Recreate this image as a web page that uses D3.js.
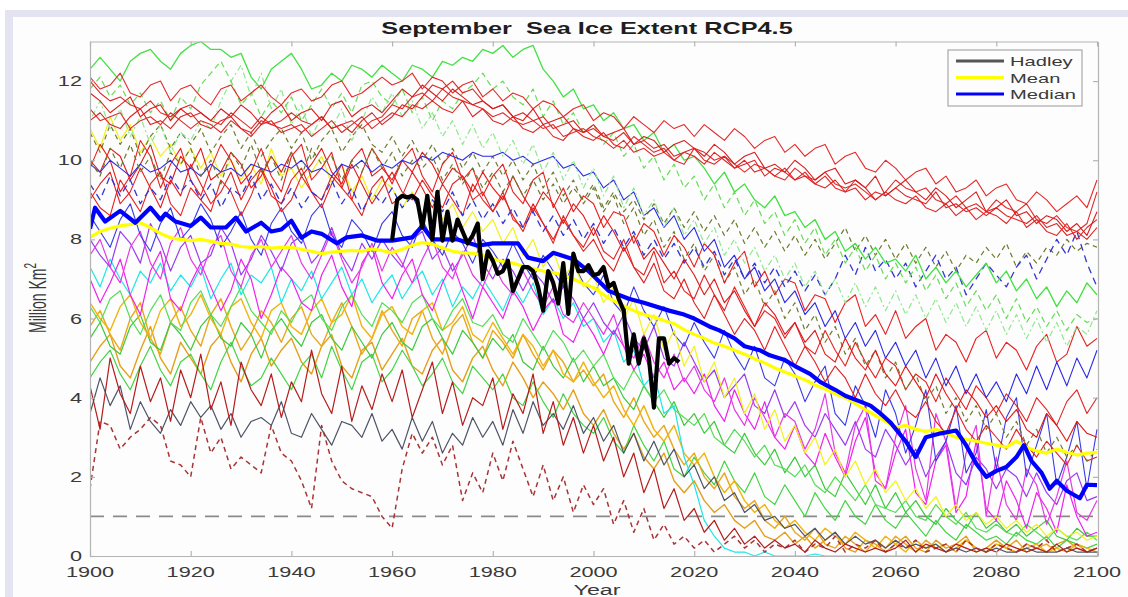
<!DOCTYPE html>
<html><head><meta charset="utf-8">
<script src="https://cdn.jsdelivr.net/npm/d3@7"></script>
<style>html,body{margin:0;padding:0;background:#fff;}svg{display:block;font-family:"Liberation Sans",Arial,Helvetica,sans-serif;}</style>
</head><body>
<svg id="chart" width="1128" height="597"></svg>
<script>
// ---------------- DATA ----------------
const title = "September\u00a0 Sea Ice Extent RCP4.5";
const xTicks = [1900,1920,1940,1960,1980,2000,2020,2040,2060,2080,2100];
const yTicks = [0,2,4,6,8,10,12];
const thresholdValue = 1;
const legendLabels = ["Hadley","Mean","Median"];

// ensemble members, one value every 2 years 1900..2100
const limeSolid = [12.3,12.6,12.3,12.0,12.5,12.7,12.8,12.5,12.3,12.7, 12.9,13.0,12.8,12.8,12.6,12.7,12.1,11.8,12.3,12.5, 12.7,12.3,11.8,11.9,12.2,12.0,12.4,12.3,12.1,12.4, 12.2,12.0,12.4,12.3,12.1,12.5,12.4,12.6,12.5,12.8, 12.7,12.9,12.6,12.8,12.9,12.3,12.0,11.6,11.8,11.3, 11.4,11.0,11.2,10.8,10.9,10.5,10.7,10.2,10.4,10.0, 10.1,9.8,9.4,9.7,9.2,9.4,9.0,8.8,9.1,8.6, 8.7,8.3,8.5,8.0,8.2,7.7,7.9,7.5,7.8,7.4, 7.5,7.2,7.6,7.0,7.3,6.9,7.2,6.8,7.1,7.4, 6.9,7.2,6.7,7.0,6.5,6.8,6.3,6.7,6.4,6.9, 6.6];
const redA = [12.1,11.8,11.9,12.2,11.7,11.6,11.9,12.0,11.5,11.8, 11.9,11.6,11.4,11.8,11.9,11.5,11.7,11.9,11.6,11.4, 11.7,11.8,11.5,11.6,11.9,12.0,11.6,11.7,11.9,12.1, 11.9,12.0,12.2,11.8,12.1,12.0,11.7,11.9,12.0,11.6, 11.8,11.5,11.7,11.6,11.3,11.5,11.4,11.1,11.3,11.4, 11.0,11.2,11.1,10.8,11.1,10.9,10.7,11.0,10.8,10.9, 10.6,10.9,10.7,10.5,10.8,10.6,10.3,10.5,10.6,10.2, 10.4,10.1,10.3,10.4,9.9,10.1,10.2,9.8,9.7,10.0, 9.8,9.5,9.7,9.8,9.4,9.6,9.2,9.3,9.5,9.1, 9.3,9.4,9.0,8.9,9.2,9.0,8.7,8.9,9.1,8.8, 9.5];
const redB = [11.7,11.5,11.2,11.4,11.6,11.1,11.3,11.4,11.0,11.3, 11.4,11.2,11.0,11.3,11.1,11.4,11.2,10.9,11.2,11.4, 11.0,11.2,11.3,11.0,11.4,11.5,11.1,11.3,11.4,11.2, 11.5,11.8,11.6,11.9,11.7,11.5,11.8,11.6,11.4,11.5, 11.3,11.4,11.1,11.0,11.3,10.9,11.0,11.1,10.8,10.7, 10.9,10.6,10.7,10.8,10.4,10.6,10.5,10.2,10.4,10.5, 10.3,10.1,10.4,10.2,9.9,10.1,10.2,9.8,9.9,9.7, 10.0,9.8,9.5,9.7,9.8,9.4,9.5,9.3,9.6,9.1, 9.3,9.5,9.2,9.0,9.3,9.1,8.8,9.0,9.2,8.7, 8.8,9.0,8.6,8.7,8.4,8.6,8.5,8.2,8.4,8.1, 8.7];
const redC = [11.3,11.0,11.1,11.2,10.8,11.0,11.1,10.9,11.2,11.0, 10.8,11.0,10.9,10.7,11.0,10.8,10.6,10.9,11.0,10.7, 10.8,10.9,10.6,10.8,11.0,10.7,10.9,11.1,10.8,11.0, 11.2,11.1,11.4,11.3,11.5,11.3,11.2,11.5,11.1,11.3, 11.0,10.9,11.1,10.8,10.7,10.9,10.6,10.5,10.8,10.6, 10.5,10.7,10.4,10.3,10.6,10.4,10.2,10.3,10.0,10.2, 10.1,9.9,10.2,10.0,9.8,9.9,10.0,9.6,9.8,9.7, 9.5,9.7,9.4,9.6,9.3,9.2,9.5,9.3,9.0,9.2, 9.0,8.9,9.1,8.8,8.7,8.9,8.6,8.8,8.5,8.7, 8.6,8.4,8.7,8.3,8.5,8.2,8.1,8.4,8.0,8.3, 8.5];
const redD = [11.0,11.2,10.9,10.8,11.1,11.3,10.9,11.0,10.8,11.1, 11.2,10.9,10.8,11.0,11.1,10.8,10.7,11.0,10.9,10.8, 10.9,10.7,10.9,11.1,10.8,10.9,10.7,11.0,11.2,10.9, 11.1,11.4,11.3,11.6,11.9,11.8,12.0,11.7,11.8,11.5, 11.3,11.4,11.1,11.2,11.0,11.1,10.8,10.9,11.0,10.7, 10.8,10.6,10.5,10.7,10.4,10.5,10.3,10.4,10.1,10.2, 10.3,10.0,9.9,10.1,9.8,10.0,9.7,9.8,9.6,9.8, 9.5,9.6,9.4,9.3,9.5,9.2,9.3,9.0,9.2,9.1, 9.3,9.1,9.0,8.9,9.2,8.8,8.9,8.7,8.8,8.6, 8.8,8.6,8.5,8.4,8.6,8.3,8.4,8.1,8.2,8.0, 8.3];
const redE = [12.0,11.7,11.5,11.6,11.4,11.3,11.5,11.2,11.1,11.3, 11.1,11.2,11.0,10.9,11.2,11.0,10.8,11.1,10.9,11.0, 11.2,11.0,10.9,11.1,10.8,10.9,11.0,10.8,11.0,11.1, 11.4,11.3,11.6,11.7,11.5,11.8,11.6,11.5,11.4,11.3, 11.1,11.2,11.0,10.9,11.0,10.8,10.9,10.6,10.7,10.8, 10.6,10.5,10.3,10.5,10.2,10.3,10.1,10.2,10.0,9.9, 10.3,10.2,10.0,10.1,9.9,9.7,9.9,9.8,9.6,9.5, 9.8,9.6,9.5,9.7,9.4,9.3,9.4,9.2,9.0,9.2, 9.5,9.3,9.2,9.3,9.0,8.9,9.1,8.8,8.9,8.7, 9.0,8.8,8.7,8.9,8.5,8.4,8.6,8.3,8.2,8.4, 9.2];
const lightGreenDashed = [11.8,12.1,11.6,11.9,11.4,11.7,11.2,11.5,11.0,11.6, 11.3,11.9,12.2,12.5,12.0,11.4,11.7,11.1,11.5,11.2, 11.6,11.0,11.4,11.8,11.3,11.7,11.2,11.9,12.0,11.6, 11.4,11.8,11.2,11.6,11.0,11.5,11.3,11.7,11.9,12.2, 11.8,12.0,11.6,11.4,11.8,11.1,11.5,10.9,11.2,10.7, 10.9,10.4,10.7,10.1,10.4,9.8,10.1,9.5,9.9,9.3, 9.6,9.0,9.4,8.8,9.2,8.6,9.0,8.4,8.7,8.1, 8.5,7.9,8.3,7.6,8.0,7.4,7.8,7.2,7.6,7.0, 7.4,6.9,7.3,6.7,7.1,6.5,6.9,6.3,6.7,6.2, 6.6,6.0,6.5,5.9,6.3,5.8,6.2,5.7,6.1,5.9, 6.0];
const lightGreenDotted = [11.0,11.5,10.8,11.3,10.6,11.1,10.4,10.9,10.2,10.7, 10.5,11.0,10.8,11.5,12.0,12.4,11.6,12.2,11.3,11.8, 10.9,11.4,10.6,11.1,10.8,11.3,10.5,11.0,11.6,11.2, 11.7,11.1,11.5,10.8,11.2,10.6,11.0,10.4,10.9,10.3, 10.7,10.1,10.5,9.9,10.4,9.7,10.2,9.5,10.0,9.3, 9.8,9.1,9.6,8.8,9.3,8.6,9.0,8.3,8.8,8.1, 8.5,7.9,8.3,7.6,8.0,7.4,7.8,7.2,7.6,7.0, 7.4,6.8,7.2,6.6,7.0,6.4,6.9,6.3,6.8,6.2, 6.7,6.1,6.6,6.0,6.5,5.9,6.4,5.8,6.3,5.7, 6.2,5.6,6.1,5.5,6.0,5.4,5.9,5.3,5.8,5.6, 6.2];
const oliveDashedA = [10.0,9.6,10.3,9.8,10.4,9.7,10.1,9.5,10.2,9.9, 10.3,9.6,10.0,9.4,10.2,9.8,10.4,9.7,10.1,9.5, 10.2,9.6,10.3,9.9,10.1,9.5,10.0,9.7,10.3,9.8, 10.2,9.6,10.0,9.8,10.1,9.5,9.9,9.4,9.8,9.3, 9.7,9.2,9.6,9.1,9.5,9.0,9.4,8.9,9.3,9.0, 9.4,8.8,9.2,8.7,9.0,8.5,8.9,8.4,8.8,8.3, 8.7,8.2,8.6,8.1,8.5,7.9,8.3,7.8,8.2,7.7, 8.1,7.6,8.0,7.5,7.9,8.3,7.7,8.1,7.6,8.0, 7.5,7.9,7.4,7.8,7.3,7.7,7.2,7.6,7.4,7.8, 7.5,7.9,7.3,7.7,7.4,7.8,7.6,8.0,7.7,7.9, 7.8];
const oliveDashedB = [10.7,10.2,10.9,10.4,10.8,10.1,10.6,10.9,10.3,10.7, 10.4,10.8,10.2,10.6,10.9,10.3,10.7,10.1,10.5,10.8, 10.3,10.7,10.0,10.5,10.8,10.2,10.6,10.9,10.4,10.2, 10.6,10.1,10.5,10.0,10.4,9.9,10.3,9.8,10.2,9.7, 10.1,9.6,10.0,9.5,9.9,9.3,9.7,9.1,9.5,8.9, 9.3,8.7,9.1,8.4,8.8,8.1,8.5,7.8,8.2,7.5, 7.9,7.2,7.6,6.9,7.3,6.6,7.0,6.3,6.7,6.0, 6.4,5.7,6.1,5.4,5.8,5.1,5.5,4.8,5.2,4.5, 4.9,4.2,4.6,3.9,4.3,3.6,4.0,3.4,3.8,3.2, 3.6,3.0,3.4,2.8,3.2,2.6,3.0,2.5,2.8,2.4, 2.7];
const blueDashed = [9.4,9.0,9.6,9.1,9.5,8.9,9.3,9.0,9.6,9.2, 9.5,9.0,9.4,8.8,9.3,9.1,9.6,9.0,9.4,8.9, 9.3,8.8,9.2,9.0,9.5,8.9,9.3,8.7,9.2,8.9, 9.3,8.8,9.1,8.6,9.0,8.7,9.2,8.6,9.0,8.5, 8.9,8.4,8.8,8.3,8.7,8.2,8.6,8.1,8.5,8.0, 8.4,7.9,8.3,7.8,8.2,7.6,8.0,7.5,7.9,7.4, 7.8,7.3,7.7,7.1,7.5,7.0,7.4,6.9,7.3,6.8, 7.2,6.7,7.1,6.6,7.0,7.6,7.1,7.8,7.2,7.5, 7.0,7.4,6.8,7.2,7.6,7.0,7.3,6.6,7.0,7.4, 7.1,6.8,7.3,7.6,7.0,7.5,8.0,7.6,8.2,7.4, 6.8];
const redF1 = [9.8,10.4,10.0,9.2,9.6,10.5,10.1,9.3,9.9,10.3, 9.5,9.1,9.8,10.4,10.0,9.4,9.7,10.3,9.6,9.2, 10.1,10.4,9.5,9.8,10.2,9.3,9.0,9.7,10.3,9.9, 9.4,10.0,10.3,9.6,9.2,9.9,10.2,9.5,9.8,9.1, 9.6,9.9,9.2,8.9,9.5,9.7,8.8,9.3,8.7,9.1, 8.9,8.3,8.7,8.6,7.9,8.4,8.2,7.6,8.1,7.8, 7.3,7.9,7.6,6.9,7.4,7.7,6.8,7.2,6.6,7.0, 6.9,6.2,6.6,6.5,5.9,6.4,6.6,5.8,6.1,5.6, 6.2,5.5,5.8,6.0,5.2,5.6,5.4,4.9,5.5,5.7, 5.0,5.4,5.2,4.7,5.3,5.6,4.9,5.1,5.8,5.3, 5.5];
const redF2 = [9.2,8.8,8.6,9.5,9.1,8.7,9.4,9.7,8.9,8.6, 9.3,9.0,8.7,9.5,9.2,8.6,9.1,9.8,9.3,8.7, 9.0,9.6,9.2,8.8,9.4,9.9,9.0,8.6,9.3,9.6, 8.9,9.1,9.7,9.3,8.8,9.4,9.0,8.6,9.4,9.0, 8.7,9.2,8.5,8.3,8.9,8.4,7.9,8.6,8.1,7.8, 8.3,7.7,7.5,8.0,7.3,7.1,7.7,6.9,7.2,6.7, 6.5,7.1,6.6,6.2,6.8,6.3,5.8,6.2,6.0,5.5, 5.9,5.3,5.1,5.7,5.2,4.8,5.4,4.9,4.5,5.0, 4.8,4.2,4.6,4.4,3.9,4.5,4.1,3.7,4.3,4.0, 3.6,4.1,3.8,3.4,4.0,3.7,3.3,3.9,4.2,3.6, 4.0];
const redF3 = [10.0,9.7,10.3,10.1,9.5,9.9,10.4,9.6,9.4,10.1, 9.8,10.3,9.5,9.7,10.2,9.9,9.3,9.6,10.1,9.7, 10.2,9.6,9.9,10.3,9.7,9.4,10.0,10.3,9.6,9.8, 9.5,10.0,9.7,10.2,9.9,9.4,9.8,9.6,9.2,9.7, 9.3,9.0,9.6,9.1,8.7,9.2,8.9,8.4,8.9,8.6, 8.1,8.6,8.2,7.7,8.1,7.5,7.8,7.4,7.0,7.5, 7.1,6.6,7.0,6.4,6.7,6.2,5.8,6.4,6.1,5.6, 5.9,5.4,5.7,5.1,4.9,5.5,5.0,4.7,5.2,4.6, 4.3,4.8,4.4,4.0,4.6,4.1,3.7,4.2,3.9,3.5, 3.8,3.4,3.7,3.2,3.0,3.6,3.3,2.9,3.4,3.1, 3.0];
const redF4 = [9.0,9.4,9.7,8.9,9.2,9.8,9.3,8.8,9.5,9.1, 9.9,9.4,8.9,9.2,9.7,9.0,9.5,9.8,9.1,8.9, 9.5,9.8,9.2,9.0,9.6,9.3,9.9,9.4,8.9,9.3, 9.7,9.2,9.0,9.5,9.1,8.8,9.4,9.6,9.0,9.2, 8.7,9.1,8.6,8.2,8.8,8.4,8.0,8.5,8.1,7.7, 8.0,7.5,7.2,7.8,7.3,6.9,7.4,6.7,6.5,7.0, 6.4,6.0,6.6,6.1,5.6,6.0,5.7,5.2,5.8,5.3, 4.8,5.3,4.9,4.4,4.8,4.5,4.0,4.6,4.1,3.8, 4.2,3.7,3.5,3.9,3.4,3.1,3.7,3.2,2.9,3.3, 3.0,2.7,3.2,2.8,2.5,2.9,2.6,2.3,2.8,2.4, 2.5];
const blueSolidA = [9.9,9.7,10.0,9.8,9.6,9.9,9.7,9.8,10.0,9.7, 9.8,9.6,9.9,9.7,9.8,9.6,9.9,9.8,9.7,9.9, 9.8,10.0,9.7,9.8,9.6,9.9,9.8,10.0,9.7,9.9, 9.8,10.0,9.9,10.1,10.0,10.2,10.1,10.0,10.2,10.1, 10.1,10.2,10.0,10.1,9.9,10.0,10.1,9.8,9.9,9.6, 9.7,9.3,9.5,9.0,9.2,8.6,8.8,8.3,8.6,8.0, 8.3,7.7,8.0,7.3,7.6,7.0,7.3,6.7,7.0,6.4, 6.7,6.1,6.4,5.8,6.2,5.5,5.9,5.3,5.7,5.0, 5.4,4.8,5.2,4.5,5.0,4.3,4.8,4.1,4.6,4.0, 4.4,3.9,4.6,4.1,4.8,4.2,4.9,4.3,5.0,4.5, 5.2];
const blueSolidB = [8.6,8.2,7.8,8.5,8.9,8.1,7.7,8.4,8.8,8.0, 8.3,8.9,8.5,7.8,8.2,8.7,8.0,7.6,8.4,8.8, 8.2,7.9,8.6,8.9,8.1,7.8,8.5,8.2,7.7,8.4, 8.7,8.1,7.8,8.5,8.0,7.6,8.2,7.9,7.4,8.0, 7.7,7.3,7.9,7.4,7.0,7.6,7.2,6.8,7.4,6.9, 6.6,7.1,6.4,6.1,6.8,6.2,5.8,6.3,5.6,5.3, 5.9,5.4,5.0,5.7,5.1,4.7,5.3,4.5,4.3,5.0, 4.6,3.9,4.4,4.8,3.6,3.3,4.3,3.8,3.0,4.2, 3.6,2.6,3.3,4.2,2.4,2.9,3.8,2.1,2.6,3.7, 2.2,3.5,4.0,2.0,2.8,3.6,1.8,2.5,3.4,1.7, 3.2];
const violet = [8.0,7.6,7.3,8.2,7.9,7.4,8.4,7.9,7.2,7.8, 8.1,7.4,7.6,8.3,7.9,7.1,7.5,8.1,7.7,7.2, 7.9,8.1,7.4,7.7,8.3,7.6,7.2,7.9,7.5,8.0, 7.6,7.3,8.0,8.2,7.5,7.8,7.2,7.6,8.1,7.4, 7.0,7.5,7.2,6.7,7.2,6.9,6.4,6.8,6.5,6.0, 6.4,5.9,5.6,6.1,5.5,5.2,5.8,5.0,4.8,5.4, 4.9,4.4,4.7,4.0,4.3,4.6,3.8,3.6,4.2,3.5, 3.9,3.3,3.0,3.6,3.2,2.8,3.4,2.7,2.5,3.2, 2.8,2.3,2.7,2.0,2.5,2.9,2.1,1.8,2.5,2.2, 1.7,2.2,2.0,1.5,2.1,1.6,1.3,1.9,2.1,1.4, 1.5];
const magentaA = [7.0,6.4,6.9,7.5,6.6,6.1,7.2,7.7,6.5,6.2, 6.9,7.4,6.8,6.2,6.7,7.5,7.0,6.0,6.6,7.3, 7.0,6.4,6.2,7.1,7.6,6.8,6.3,7.4,7.8,6.9, 6.5,7.1,7.5,6.6,6.2,6.9,7.4,6.7,6.0,6.8, 6.4,6.0,6.7,6.3,5.7,6.2,6.5,5.6,5.4,6.0, 5.6,5.1,5.7,5.3,4.7,5.1,4.5,4.9,4.2,4.5, 4.1,4.6,3.8,3.4,4.2,3.6,3.2,3.9,3.0,2.7, 3.3,2.6,2.3,3.1,2.5,2.0,2.9,3.5,2.1,1.7, 2.6,3.2,1.6,1.3,2.4,2.8,1.1,1.5,2.9,1.2, 0.9,1.9,1.4,0.7,1.6,1.2,0.6,1.8,1.0,0.5, 0.6];
const magentaB = [7.6,8.0,7.3,6.9,7.8,8.2,7.4,7.0,7.9,8.3, 7.5,7.1,7.8,8.1,7.2,6.8,7.6,8.0,7.3,7.7, 8.1,7.4,7.0,7.6,8.2,7.5,6.9,7.3,7.9,7.2, 7.8,7.4,6.9,7.5,8.0,7.3,7.0,7.7,7.1,6.8, 7.4,6.9,6.6,7.2,6.7,6.3,6.8,6.1,5.9,6.4, 6.0,5.6,6.1,5.3,5.0,5.6,4.9,4.5,5.1,4.4, 4.8,4.2,3.9,4.5,3.7,3.3,4.0,3.5,3.0,3.6, 3.4,2.7,3.2,4.1,2.6,2.1,3.3,3.8,1.9,1.7, 3.0,3.8,2.2,1.4,3.6,2.9,1.2,2.6,3.3,1.0, 2.5,1.3,0.9,2.2,1.8,0.8,1.5,2.4,1.1,0.9, 1.4];
const cyan = [7.3,6.8,7.5,7.0,6.6,7.2,6.9,7.4,6.7,7.1, 6.8,7.3,6.5,7.0,7.4,6.6,7.1,6.9,7.3,6.4, 7.0,6.7,7.2,6.5,6.9,7.3,6.6,7.0,6.4,6.8, 7.1,6.5,6.9,7.2,6.6,7.0,6.3,6.8,6.5,7.0, 6.6,6.2,6.8,6.4,6.9,6.1,6.5,6.0,6.4,5.8, 6.0,5.4,5.7,4.9,5.2,4.3,4.6,3.6,3.8,2.5, 1.8,0.9,0.5,0.2,0.1,0.1,0,0.1,0,0, 0,0,0.05,0,0,0,0,0,0,0, 0,0,0,0,0,0,0,0,0,0, 0,0,0,0,0,0,0,0,0,0, 0];
const orangeA = [5.8,6.2,5.6,5.2,6.0,6.4,5.5,5.1,5.9,6.3, 5.7,5.3,6.1,6.5,5.8,5.2,5.6,6.2,5.9,5.4, 6.0,6.3,5.6,5.3,5.9,6.4,5.8,5.1,5.5,6.2, 5.7,5.3,6.0,6.2,5.5,5.1,5.8,6.1,5.4,5.0, 5.7,5.4,5.0,5.6,5.1,4.7,5.2,4.9,4.4,4.7, 4.3,4.6,3.9,3.5,4.0,3.4,3.0,3.3,2.7,2.3, 2.6,2.0,1.7,2.1,1.5,1.2,1.4,0.9,0.7,1.0, 0.6,0.4,0.7,0.3,0.2,0.5,0.3,0.1,0.4,0.2, 0.5,0.3,0.1,0.4,0.2,0.3,0.1,0.4,0.2,0.1, 0.3,0.2,0.4,0.1,0.2,0.3,0.1,0.2,0.3,0.1, 0.2];
const orangeB = [4.9,5.3,5.6,4.8,4.5,5.2,5.8,5.0,4.6,5.4, 5.0,4.6,5.3,5.6,4.9,4.4,5.1,5.5,4.8,5.2, 5.5,4.9,4.6,5.3,5.6,4.8,4.5,5.2,5.4,4.7, 5.1,5.5,4.8,4.6,5.2,5.5,4.7,4.4,5.0,5.3, 4.7,4.3,4.9,4.5,4.0,4.4,4.1,3.7,4.2,3.6, 3.3,3.7,3.1,2.7,3.1,2.5,2.2,2.6,1.9,1.6, 1.9,1.4,1.1,1.3,0.9,0.7,0.9,0.5,0.4,0.6, 0.3,0.5,0.2,0.4,0.6,0.2,0.1,0.4,0.3,0.1, 0.3,0.5,0.2,0.1,0.4,0.2,0.3,0.5,0.1,0.2, 0.4,0.2,0.1,0.3,0.2,0.1,0.3,0.4,0.2,0.1, 0.2];
const goldC = [6.4,6.0,5.7,6.3,6.6,5.9,5.5,6.2,6.5,5.8, 6.1,6.6,6.0,5.6,6.3,6.5,5.9,5.5,6.2,6.4, 5.8,5.6,6.2,6.5,5.9,6.1,6.6,5.8,5.5,6.1, 6.3,5.8,5.6,6.2,6.4,5.7,5.9,6.3,5.6,5.4, 5.9,5.5,5.1,5.6,5.3,4.8,5.2,4.6,4.4,4.9, 4.4,4.0,4.3,3.7,3.3,3.8,3.2,2.9,3.3,2.6, 2.3,2.6,2.0,1.6,1.9,1.4,1.1,1.3,0.9,0.7, 0.9,0.6,0.4,0.7,0.5,0.3,0.6,0.4,0.2,0.5, 0.3,0.1,0.4,0.2,0.3,0.1,0.2,0.4,0.2,0.1, 0.3,0.2,0.1,0.2,0.3,0.1,0.2,0.1,0.3,0.2, 0.1];
const greenA = [5.5,5.9,5.3,5.1,5.8,6.1,5.4,5.2,5.9,5.6, 5.2,5.8,6.1,5.5,5.3,5.9,5.6,5.0,5.7,6.0, 5.6,5.3,5.9,6.1,5.5,5.2,5.8,5.4,5.0,5.6, 5.9,5.4,5.2,5.8,6.0,5.5,5.1,5.7,5.4,5.0, 5.5,5.2,5.6,4.9,4.7,5.3,4.8,4.5,5.0,4.4, 4.8,4.3,4.5,4.0,3.7,4.3,3.9,3.5,3.9,3.3, 3.6,3.1,3.4,2.8,2.6,3.1,2.6,2.3,2.7,2.1, 2.5,2.0,2.3,1.7,1.5,2.1,1.7,1.3,1.8,1.2, 1.6,1.1,1.4,1.0,0.8,1.2,0.9,0.7,1.1,0.7, 0.9,0.6,0.8,0.5,0.7,0.9,0.5,0.4,0.7,0.5, 0.5];
const greenB = [6.3,5.9,6.5,6.7,6.0,5.6,6.2,6.6,5.9,5.7, 6.4,6.7,6.1,5.8,6.3,6.8,6.2,5.9,5.6,6.2, 5.9,6.4,6.6,6.0,5.7,6.3,6.6,6.1,5.8,6.4, 6.2,5.9,6.4,6.6,6.0,5.7,6.2,6.5,5.9,5.8, 6.1,5.6,5.4,6.0,5.6,5.2,5.7,5.4,4.9,5.2, 4.8,5.1,4.5,4.2,4.7,4.3,3.9,4.2,3.7,3.5, 3.3,3.6,3.0,2.8,3.2,2.9,2.5,2.8,2.3,2.2, 2.0,2.3,1.8,1.6,2.0,1.7,1.4,1.8,1.3,1.2, 1.1,1.4,1.0,0.9,1.3,1.0,0.8,1.1,0.7,0.6, 0.8,0.6,0.5,0.8,0.6,0.4,0.7,0.5,0.4,0.6, 0.4];
const greenC = [4.5,4.9,5.2,4.6,4.2,4.8,5.3,4.7,4.3,4.9, 5.1,4.6,4.2,4.9,5.4,4.8,4.3,4.5,5.0,4.6, 4.2,4.8,5.1,4.5,5.3,4.7,4.2,4.9,5.1,4.4, 4.7,5.2,4.8,4.3,4.6,5.0,4.4,4.1,4.8,4.5, 4.2,4.6,4.0,3.8,4.4,3.9,3.5,4.1,3.6,3.3, 3.1,3.5,2.9,2.6,3.3,2.8,2.4,2.9,2.2,2.0, 2.5,2.1,1.8,2.4,1.9,1.6,2.1,1.5,1.3,1.8, 1.4,1.0,1.6,1.2,0.9,1.4,1.0,0.8,1.3,0.9, 0.7,1.1,0.8,0.5,0.9,0.6,0.4,0.8,0.6,0.4, 0.5,0.3,0.6,0.4,0.3,0.5,0.2,0.4,0.3,0.2, 0.3];
const slateGray = [3.6,4.5,3.8,4.3,3.2,3.9,3.4,3.1,3.7,3.3, 3.9,3.5,3.8,3.2,3.6,3.0,3.4,3.5,3.3,3.9, 3.1,3.0,3.6,3.2,2.8,3.4,3.3,3.0,3.6,2.9, 3.2,2.7,3.5,2.9,3.4,2.6,3.1,2.8,3.5,3.0, 3.4,2.8,3.7,3.1,3.9,3.3,3.6,3.2,3.8,3.1, 3.5,2.9,3.3,2.6,3.1,2.4,2.9,2.3,2.7,2.0, 2.3,1.7,2.0,1.4,1.6,1.1,1.3,0.9,1.0,0.7, 0.8,0.5,0.7,0.4,0.6,0.3,0.5,0.3,0.4,0.2, 0.4,0.2,0.3,0.2,0.3,0.1,0.2,0.1,0.2,0.1, 0.2,0.1,0.1,0.2,0.1,0.1,0.1,0.2,0.1,0.1, 0.1];
const brownDashed = [1.7,3.4,3.3,2.7,3.0,3.2,3.5,3.3,2.4,2.3, 2.0,3.5,2.6,3.0,2.2,2.5,2.3,2.1,3.3,2.6, 2.4,1.9,1.2,3.3,2.4,1.9,1.7,1.6,1.5,1.0, 0.7,2.2,3.1,2.6,3.0,2.3,2.8,1.4,2.1,1.6, 2.6,1.9,2.9,2.2,1.5,2.3,1.4,2.0,1.1,1.8, 1.3,1.7,0.8,1.4,0.6,1.2,0.4,0.8,0.3,0.5, 0.2,0.4,0.1,0.3,0.5,0.2,0.4,0.1,0.3,0.2, 0.4,0.1,0.3,0.2,0.5,0.1,0.3,0.2,0.4,0.1, 0.3,0.2,0.4,0.1,0.2,0.3,0.1,0.4,0.2,0.1, 0.3,0.2,0.1,0.3,0.2,0.4,0.1,0.2,0.3,0.1, 0.2];
const darkRed = [4.3,3.2,5.0,4.1,3.6,4.8,3.9,4.5,3.4,4.7, 4.0,5.1,3.7,4.4,3.3,4.9,4.2,3.8,4.6,3.5, 4.4,3.9,5.2,4.1,3.6,4.8,3.4,4.3,3.7,4.6, 3.9,4.7,3.5,4.2,4.9,3.6,4.4,3.3,4.0,3.8, 4.5,3.2,4.1,3.6,4.6,3.1,3.9,2.8,3.5,2.6, 3.3,2.4,3.0,2.0,2.6,1.6,2.2,1.2,1.7,0.9, 1.2,0.6,0.9,0.4,0.7,0.3,0.5,0.2,0.4,0.2, 0.3,0.1,0.4,0.2,0.1,0.3,0.2,0.1,0.2,0.1, 0.2,0.4,0.1,0.3,0.2,0.1,0.3,0.2,0.1,0.2, 0.1,0.3,0.2,0.1,0.2,0.1,0.3,0.1,0.2,0.1, 0.2];
const yellowThin = [10.8,10.3,11.1,10.5,10.9,10.2,10.6,10.1,10.4,9.9, 10.3,9.8,10.2,9.6,10.0,9.5,9.9,9.4,10.3,9.6, 9.8,9.3,9.7,10.1,9.4,9.9,9.2,9.6,9.0,9.5, 9.3,8.8,9.2,8.6,9.0,8.5,8.9,8.3,8.7,8.2, 8.5,7.9,8.3,7.6,8.0,7.3,7.7,7.0,7.4,6.8, 7.1,6.4,6.8,6.0,6.5,5.6,6.1,5.2,5.7,4.8, 5.3,4.4,4.9,4.0,4.5,3.6,4.1,3.2,3.7,2.9, 3.3,2.6,3.0,2.3,2.7,2.0,2.4,1.8,2.2,1.6, 1.9,1.4,1.7,1.2,1.5,1.0,1.3,0.9,1.1,0.8, 1.0,0.7,0.9,0.6,0.8,0.5,0.7,0.5,0.6,0.4, 0.5];

// ensemble mean (every 2 years 1900..2100)
const meanValues = [8.05,8.2,8.28,8.34,8.38,8.42,8.3,8.15,8.04,8.0, 7.97,8.0,7.95,7.9,7.88,7.82,7.8,7.82,7.78,7.8, 7.8,7.75,7.7,7.64,7.68,7.7,7.72,7.7,7.76,7.72, 7.66,7.75,7.85,7.92,7.88,7.78,7.7,7.66,7.65,7.6, 7.5,7.44,7.4,7.32,7.26,7.2,7.16,7.1,7.0,6.88, 6.78,6.6,6.45,6.32,6.2,6.1,6.04,5.95,5.87,5.72, 5.6,5.5,5.38,5.3,5.2,5.1,4.98,4.88,4.75,4.65, 4.55,4.45,4.32,4.22,4.1,4.0,3.85,3.7,3.55,3.4, 3.25,3.3,3.2,3.15,3.2,3.1,3.0,2.95,2.9,2.85, 2.8,2.75,2.9,2.75,2.65,2.6,2.7,2.62,2.55,2.6, 2.62];

// ensemble median (years)
const medianYears = [1900,1901,1903,1906,1909,1912,1914,1915,1917,1920,1922,1924,1927,1929,1931,1934,1936,1938,1940,1942,1944,1946,1949,1951,1954,1957,1960,1964,1966,1968,1973,1977,1980,1985,1987,1990,1992,1996,1999,2003,2007,2010,2015,2018,2020,2023,2025,2028,2030,2033,2035,2038,2040,2043,2045,2048,2050,2053,2055,2057,2059,2062,2064,2066,2069,2072,2074,2076,2078,2080,2082,2084,2085.5,2087,2089,2090.6,2092,2094,2096.6,2098,2100];
const medianValues = [8.27,8.8,8.45,8.72,8.42,8.8,8.5,8.65,8.45,8.34,8.55,8.3,8.3,8.55,8.2,8.42,8.2,8.25,8.47,8.04,8.2,8.14,7.9,8.05,8.1,7.97,7.97,8.05,8.34,8.0,8.0,7.84,7.9,7.9,7.54,7.45,7.66,7.5,7.2,6.7,6.5,6.4,6.2,6.1,6.0,5.8,5.7,5.5,5.3,5.2,5.07,4.95,4.8,4.6,4.4,4.2,4.05,3.9,3.8,3.6,3.37,2.9,2.5,3.0,3.1,3.17,2.8,2.34,2.0,2.15,2.25,2.5,2.8,2.4,2.1,1.7,1.9,1.65,1.46,1.8,1.79];

// Hadley observations 1960..2017
const hadleyYears = d3.range(1960, 2018);
const hadleyValues = [7.97,9.0,9.1,9.06,9.1,9.0,8.3,9.1,8.0,9.2, 7.97,8.7,7.97,8.5,8.2,7.9,8.1,8.4,7.0,7.7, 7.46,7.13,7.2,7.46,6.7,7.0,7.3,7.3,7.2,6.8, 6.2,7.2,6.9,6.38,7.4,6.12,7.64,7.2,7.2,7.35, 7.1,7.13,7.3,6.8,6.9,6.5,6.2,4.86,5.6,4.86, 5.5,5.0,3.75,5.5,5.5,4.86,5.0,4.9];

// ---------------- CHART ----------------
const svg = d3.select("#chart");
const W = 1128, H = 597;
const SX = 1.55; // horizontal stretch of the original's lettering

svg.append("rect").attr("x",5).attr("y",10).attr("width",W).attr("height",H).attr("fill","#e3e3f1");
svg.append("rect").attr("x",13).attr("y",17).attr("width",W).attr("height",H).attr("fill","#fdfdfd");

const plot = {left:90, right:1097, top:41.5, bottom:556};
const x = d3.scaleLinear().domain([1900,2100]).range([plot.left, plot.right]);
const y = d3.scaleLinear().domain([0,13]).range([plot.bottom, plot.top]);

const defs = svg.append("defs");
defs.append("clipPath").attr("id","clip").append("rect")
  .attr("x",plot.left).attr("y",plot.top).attr("width",plot.right-plot.left+1).attr("height",plot.bottom-plot.top);
const blur = defs.append("filter").attr("id","soft").attr("x","-5%").attr("y","-5%").attr("width","110%").attr("height","110%");
blur.append("feGaussianBlur").attr("stdDeviation",0.55);

const years2 = d3.range(1900, 2101, 2);
const members = [
  {v: orangeB, c:"#e4a01c", w:1.4},
  {v: greenC, c:"#45d445", w:1.2},
  {v: orangeA, c:"#e8a820", w:1.4},
  {v: greenA, c:"#3cc83c", w:1.2},
  {v: goldC, c:"#f0b410", w:1.4},
  {v: greenB, c:"#55dd55", w:1.2},
  {v: cyan, c:"#1ee6e6", w:1.2},
  {v: slateGray, c:"#4e5468", w:1.2},
  {v: brownDashed, c:"#a83434", w:1.5, d:"5,4"},
  {v: darkRed, c:"#b51c1c", w:1.2},
  {v: magentaA, c:"#ee22ee", w:1.2},
  {v: violet, c:"#9a3cf0", w:1.2},
  {v: magentaB, c:"#e43ae4", w:1.2},
  {v: blueSolidB, c:"#3a3ae6", w:1.1},
  {v: yellowThin, c:"#f2f21a", w:1.2},
  {v: redF4, c:"#e02020", w:1.1},
  {v: redF2, c:"#e42424", w:1.1},
  {v: oliveDashedB, c:"#6e7d2e", w:1.2, d:"5,4"},
  {v: redF3, c:"#e01818", w:1.1},
  {v: redF1, c:"#e82020", w:1.1},
  {v: blueSolidA, c:"#2a2ae6", w:1.1},
  {v: oliveDashedA, c:"#6b7a2b", w:1.2, d:"5,4"},
  {v: blueDashed, c:"#3434d4", w:1.3, d:"7,5"},
  {v: lightGreenDotted, c:"#8ee88e", w:1.2, d:"2,3,6,3"},
  {v: lightGreenDashed, c:"#66dd55", w:1.2, d:"6,4"},
  {v: limeSolid, c:"#44e044", w:1.3},
  {v: redE, c:"#e02a2a", w:1.1},
  {v: redD, c:"#dc2222", w:1.1},
  {v: redC, c:"#e02626", w:1.1},
  {v: redB, c:"#d81e1e", w:1.1},
  {v: redA, c:"#e42a2a", w:1.1}
];

const lines = svg.append("g").attr("clip-path","url(#clip)").attr("filter","url(#soft)");
const line = d3.line().x(d => x(d[0])).y(d => y(d[1]));

// threshold reference
lines.append("path").datum([[1900,thresholdValue],[2100,thresholdValue]])
  .attr("d", line).attr("fill","none").attr("stroke","#8a8a8a").attr("stroke-width",1.6).attr("stroke-dasharray","14,9");

members.forEach(m => {
  lines.append("path").datum(m.v.map((v,i) => [years2[i], v]))
    .attr("d", line).attr("fill","none").attr("stroke", m.c)
    .attr("stroke-width", m.w).attr("stroke-linejoin","round")
    .attr("stroke-dasharray", m.d || null);
});

lines.append("path").datum(meanValues.map((v,i) => [years2[i], v]))
  .attr("d", line).attr("fill","none").attr("stroke","#ffff00").attr("stroke-width",3.2).attr("stroke-linejoin","round");
lines.append("path").datum(medianValues.map((v,i) => [medianYears[i], v]))
  .attr("d", line).attr("fill","none").attr("stroke","#0000ff").attr("stroke-width",4.2).attr("stroke-linejoin","round");
lines.append("path").datum(hadleyValues.map((v,i) => [hadleyYears[i], v]))
  .attr("d", line).attr("fill","none").attr("stroke","#000000").attr("stroke-width",4.2).attr("stroke-linejoin","round");

// axes (ticks inside, MATLAB style box)
const axisCol = "#b4b4b4";
const gx = svg.append("g").attr("transform",`translate(0,${plot.bottom})`)
  .call(d3.axisBottom(x).tickValues(xTicks).tickSizeInner(-5).tickSizeOuter(0).tickFormat(""));
const gxt = svg.append("g").attr("transform",`translate(0,${plot.top})`)
  .call(d3.axisTop(x).tickValues(xTicks).tickSizeInner(-5).tickSizeOuter(0).tickFormat(""));
const gy = svg.append("g").attr("transform",`translate(${plot.left},0)`)
  .call(d3.axisLeft(y).tickValues(yTicks).tickSizeInner(-5).tickSizeOuter(0).tickFormat(""));
const gyr = svg.append("g").attr("transform",`translate(${plot.right+1},0)`)
  .call(d3.axisRight(y).tickValues(yTicks).tickSizeInner(-5).tickSizeOuter(0).tickFormat(""));
[gx,gxt,gy,gyr].forEach(g => { g.selectAll("path,line").attr("stroke",axisCol).attr("stroke-width",1.2); });

// stretched text helper
function stext(px, py, str, size, anchor, opts = {}) {
  const sx = opts.sx || SX;
  return svg.append("text")
    .attr("transform", `translate(${px},${py}) scale(${sx},1)` + (opts.rot ? ` rotate(${opts.rot})` : ""))
    .attr("text-anchor", anchor).attr("font-size", size)
    .attr("font-weight", opts.bold ? "bold" : "normal")
    .attr("fill", opts.fill || "#3a3a3a").text(str);
}

xTicks.forEach(t => stext(x(t), 577, String(t), 14, "middle"));
yTicks.forEach(t => stext(plot.left - 8, y(t) + 5, String(t), 14, "end"));

stext(587, 34, title, 16, "middle", {bold:true, fill:"#1e1e1e", sx:1.58});
stext(597, 595, "Year", 15, "middle");

const yl = stext(46, 298, "Million Km", 14, "middle", {rot:-90, sx:1.65});
yl.append("tspan").attr("dy",-6).attr("font-size",10).text("2");

// legend
const lg = svg.append("g");
lg.append("rect").attr("x",948).attr("y",50).attr("width",134).attr("height",56)
  .attr("fill","#fdfdfd").attr("stroke","#a8a8a8").attr("stroke-width",1.2);
const legendColors = ["#555555","#ffff00","#0000ff"];
legendLabels.forEach((lab,i) => {
  const ly = 61 + i*16.5;
  lg.append("line").attr("x1",956).attr("x2",1004).attr("y1",ly).attr("y2",ly)
    .attr("stroke",legendColors[i]).attr("stroke-width",3);
  svg.append("text").attr("transform",`translate(1010,${ly+5}) scale(${SX},1)`)
    .attr("font-size",13).attr("fill","#3a3a3a").text(lab);
});
</script>
</body></html>
